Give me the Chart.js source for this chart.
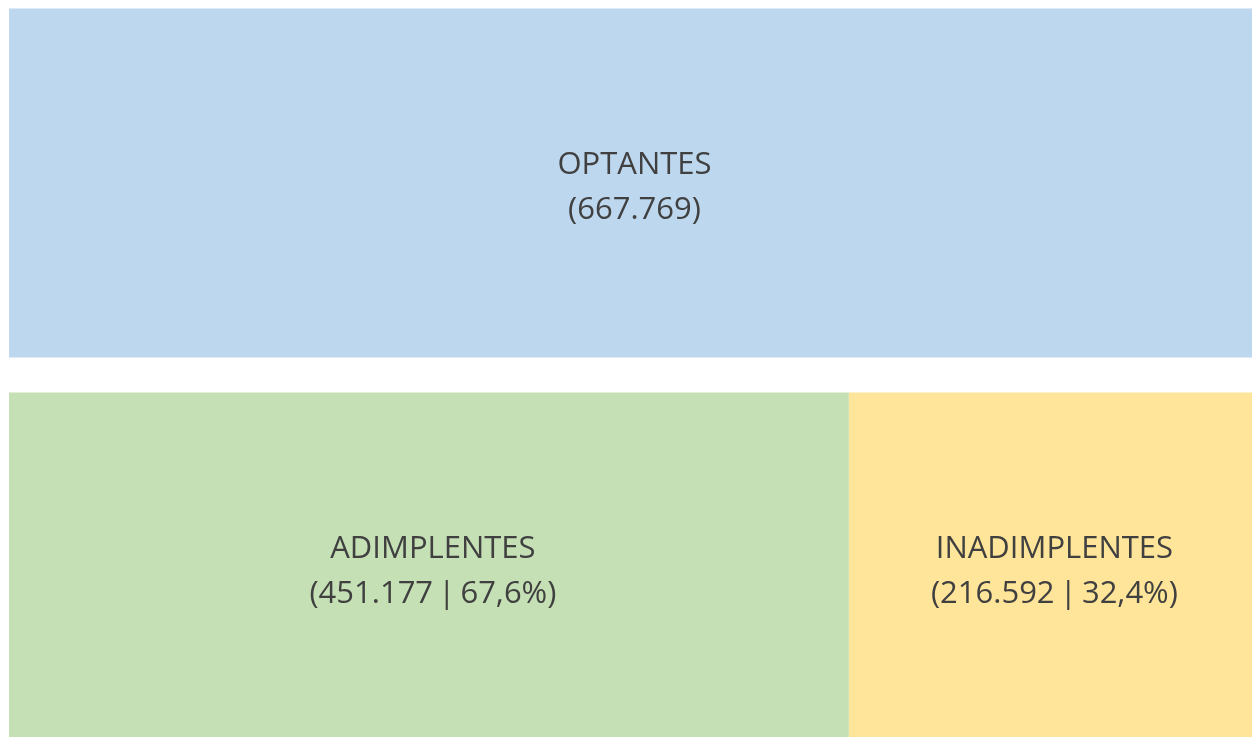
<!DOCTYPE html>
<html lang="pt">
<head>
    <meta charset="UTF-8">
    <title>Optantes</title>
    <script src="https://cdn.jsdelivr.net/npm/chart.js@4.4.0/dist/chart.umd.min.js"></script>
</head>
<style>
    body { margin: 0; background: #ffffff; overflow: hidden; }
    #wrap { position: absolute; left: 9px; top: -9px; width: 1243px; height: 768px; }
</style>
<body>
    <div id="wrap">
        <canvas id="myCanvas"></canvas>
    </div>

    <script>
        // rows and values
        const rows = ['OPTANTES', 'SITUACAO'];
        const seriesNames = ['OPTANTES', 'ADIMPLENTES', 'INADIMPLENTES'];
        const optantes = [667769, null];
        const adimplentes = [null, 451177];
        const inadimplentes = [null, 216592];
        const colors = ['#BDD7EE', '#C5E0B4', '#FFE599'];

        const total = optantes[0];

        function fmtNum(v) {
            return v.toString().replace(/\B(?=(\d{3})+(?!\d))/g, '.');
        }
        function fmtPct(v) {
            return (v / total * 100).toFixed(1).replace('.', ',') + '%';
        }

        // draws the two lines of text inside each box
        const boxLabels = {
            id: 'boxLabels',
            afterDatasetsDraw(chart) {
                const c = chart.ctx;
                c.save();
                c.fillStyle = '#404040';
                c.font = '31px "Open Sans", sans-serif';
                c.textAlign = 'center';
                c.textBaseline = 'middle';
                chart.data.datasets.forEach((ds, i) => {
                    const meta = chart.getDatasetMeta(i);
                    meta.data.forEach((bar, j) => {
                        const v = ds.data[j];
                        if (v == null) return;
                        const x = (bar.x + bar.base) / 2 + 4;
                        const y = bar.y + 4;
                        let second = '(' + fmtNum(v) + ')';
                        if (i > 0) second = '(' + fmtNum(v) + '\u2009|\u2009' + fmtPct(v) + ')';
                        c.fillText(ds.label, x, y - 22);
                        c.fillText(second, x, y + 23);
                    });
                });
                c.restore();
            }
        };

        const ctx = document.getElementById('myCanvas').getContext('2d');
        const myChart = new Chart(ctx, {
            type: 'bar',
            data: {
                labels: rows,
                datasets: [
                    { label: seriesNames[0], data: optantes, backgroundColor: colors[0] },
                    { label: seriesNames[1], data: adimplentes, backgroundColor: colors[1] },
                    { label: seriesNames[2], data: inadimplentes, backgroundColor: colors[2] }
                ]
            },
            options: {
                indexAxis: 'y',
                responsive: true,
                maintainAspectRatio: false,
                animation: false,
                layout: { padding: 0 },
                datasets: {
                    bar: { barPercentage: 0.909, categoryPercentage: 1, borderWidth: 0 }
                },
                scales: {
                    x: { stacked: true, display: false, min: 0, max: total },
                    y: { stacked: true, display: false }
                },
                plugins: {
                    legend: { display: false },
                    tooltip: { enabled: false }
                }
            },
            plugins: [boxLabels]
        });
    </script>
</body>
</html>
